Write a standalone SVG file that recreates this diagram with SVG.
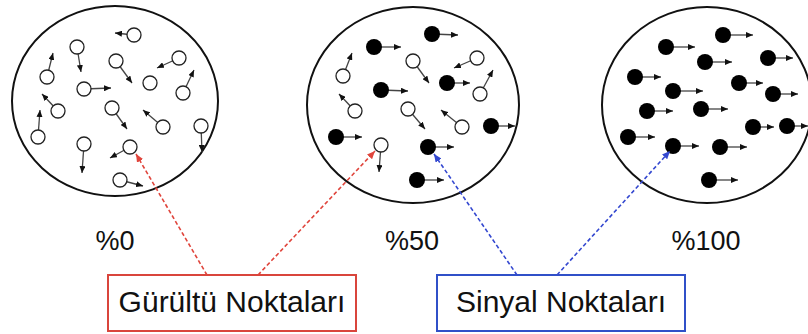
<svg xmlns="http://www.w3.org/2000/svg" width="808" height="334" viewBox="0 0 808 334">
  <style>
    .ring { fill: none; stroke: #111; stroke-width: 2; }
    .mv { stroke: #444; stroke-width: 1.3; marker-end: url(#tip); }
    .hollow { fill: #fff; stroke: #222; stroke-width: 1.3; }
    .solid { fill: #000; }
    .pct { font-family: "Liberation Sans", Arial, sans-serif; font-size: 27px; fill: #111; text-anchor: middle; }
    .lbl { font-family: "Liberation Sans", Arial, sans-serif; font-size: 30px; fill: #111; text-anchor: middle; }
    .noise { stroke: #e0453c; stroke-width: 1.6; stroke-dasharray: 4 2.5; fill: none; marker-end: url(#redTip); }
    .signal { stroke: #3448d0; stroke-width: 1.6; stroke-dasharray: 4 2.5; fill: none; marker-end: url(#blueTip); }
  </style>
  <defs>
    <marker id="tip" markerUnits="userSpaceOnUse" markerWidth="7" markerHeight="6" refX="7" refY="3" orient="auto">
      <path d="M0,0 L7,3 L0,6 z" fill="#111"/>
    </marker>
    <marker id="redTip" markerUnits="userSpaceOnUse" markerWidth="8" markerHeight="7" refX="8" refY="3.5" orient="auto">
      <path d="M0,0 L8,3.5 L0,7 z" fill="#e0453c"/>
    </marker>
    <marker id="blueTip" markerUnits="userSpaceOnUse" markerWidth="8" markerHeight="7" refX="8" refY="3.5" orient="auto">
      <path d="M0,0 L8,3.5 L0,7 z" fill="#3448d0"/>
    </marker>
  </defs>
  <rect width="808" height="334" fill="#fff"/>

  <!-- 0% signal: every dot moves randomly -->
  <g id="field-0">
    <ellipse class="ring" cx="115" cy="101" rx="103" ry="95"/>
    <line class="mv" x1="134" y1="35" x2="115" y2="33"/>
    <line class="mv" x1="77" y1="47" x2="81" y2="72"/>
    <line class="mv" x1="47" y1="77" x2="53" y2="53"/>
    <line class="mv" x1="116" y1="61" x2="132" y2="83"/>
    <line class="mv" x1="179" y1="58" x2="157" y2="68"/>
    <line class="mv" x1="183" y1="93" x2="194" y2="70"/>
    <line class="mv" x1="84" y1="89" x2="111" y2="88"/>
    <line class="mv" x1="58" y1="111" x2="42" y2="94"/>
    <line class="mv" x1="112" y1="108" x2="127" y2="129"/>
    <line class="mv" x1="163" y1="127" x2="143" y2="110"/>
    <line class="mv" x1="38" y1="137" x2="40" y2="110"/>
    <line class="mv" x1="201" y1="126" x2="202" y2="152"/>
    <line class="mv" x1="84" y1="144" x2="82" y2="173"/>
    <line class="mv" x1="130" y1="147" x2="110" y2="158"/>
    <line class="mv" x1="120" y1="180" x2="143" y2="186"/>
    <circle class="hollow" cx="134" cy="35" r="7"/>
    <circle class="hollow" cx="77" cy="47" r="7"/>
    <circle class="hollow" cx="47" cy="77" r="7"/>
    <circle class="hollow" cx="116" cy="61" r="7"/>
    <circle class="hollow" cx="179" cy="58" r="7"/>
    <circle class="hollow" cx="150" cy="83" r="7"/>
    <circle class="hollow" cx="183" cy="93" r="7"/>
    <circle class="hollow" cx="84" cy="89" r="7"/>
    <circle class="hollow" cx="58" cy="111" r="7"/>
    <circle class="hollow" cx="112" cy="108" r="7"/>
    <circle class="hollow" cx="163" cy="127" r="7"/>
    <circle class="hollow" cx="38" cy="137" r="7"/>
    <circle class="hollow" cx="201" cy="126" r="7"/>
    <circle class="hollow" cx="84" cy="144" r="7"/>
    <circle class="hollow" cx="130" cy="147" r="7"/>
    <circle class="hollow" cx="120" cy="180" r="7"/>
    <text class="pct" x="115" y="250">%0</text>
  </g>

  <!-- 50% signal -->
  <g id="field-50">
    <ellipse class="ring" cx="413" cy="105" rx="106" ry="98"/>
    <line class="mv" x1="432" y1="34" x2="458" y2="35"/>
    <line class="mv" x1="374" y1="47" x2="401" y2="47"/>
    <line class="mv" x1="447" y1="83" x2="470" y2="83"/>
    <line class="mv" x1="381" y1="90" x2="408" y2="91"/>
    <line class="mv" x1="491" y1="126" x2="515" y2="126"/>
    <line class="mv" x1="336" y1="137" x2="362" y2="137"/>
    <line class="mv" x1="428" y1="147" x2="454" y2="147"/>
    <line class="mv" x1="417" y1="180" x2="444" y2="180"/>
    <line class="mv" x1="413" y1="61" x2="429" y2="83"/>
    <line class="mv" x1="477" y1="58" x2="454" y2="68"/>
    <line class="mv" x1="343" y1="76" x2="352" y2="53"/>
    <line class="mv" x1="480" y1="94" x2="493" y2="70"/>
    <line class="mv" x1="355" y1="111" x2="339" y2="94"/>
    <line class="mv" x1="408" y1="109" x2="425" y2="129"/>
    <line class="mv" x1="462" y1="127" x2="441" y2="110"/>
    <line class="mv" x1="381" y1="145" x2="379" y2="172"/>
    <circle class="solid" cx="432" cy="34" r="8"/>
    <circle class="solid" cx="374" cy="47" r="8"/>
    <circle class="solid" cx="447" cy="83" r="8"/>
    <circle class="solid" cx="381" cy="90" r="8"/>
    <circle class="solid" cx="491" cy="126" r="8"/>
    <circle class="solid" cx="336" cy="137" r="8"/>
    <circle class="solid" cx="428" cy="147" r="8"/>
    <circle class="solid" cx="417" cy="180" r="8"/>
    <circle class="hollow" cx="413" cy="61" r="7"/>
    <circle class="hollow" cx="477" cy="58" r="7"/>
    <circle class="hollow" cx="343" cy="76" r="7"/>
    <circle class="hollow" cx="480" cy="94" r="7"/>
    <circle class="hollow" cx="355" cy="111" r="7"/>
    <circle class="hollow" cx="408" cy="109" r="7"/>
    <circle class="hollow" cx="462" cy="127" r="7"/>
    <circle class="hollow" cx="381" cy="145" r="7"/>
    <text class="pct" x="412" y="250">%50</text>
  </g>

  <!-- 100% signal: every dot moves right -->
  <g id="field-100">
    <ellipse class="ring" cx="707" cy="105" rx="105" ry="98"/>
    <line class="mv" x1="723" y1="35" x2="753" y2="35"/>
    <line class="mv" x1="666" y1="47" x2="695" y2="47"/>
    <line class="mv" x1="705" y1="62" x2="732" y2="62"/>
    <line class="mv" x1="768" y1="58" x2="793" y2="58"/>
    <line class="mv" x1="635" y1="77" x2="661" y2="77"/>
    <line class="mv" x1="739" y1="83" x2="763" y2="83"/>
    <line class="mv" x1="673" y1="91" x2="703" y2="91"/>
    <line class="mv" x1="773" y1="94" x2="798" y2="94"/>
    <line class="mv" x1="647" y1="111" x2="673" y2="111"/>
    <line class="mv" x1="701" y1="109" x2="728" y2="109"/>
    <line class="mv" x1="753" y1="127" x2="774" y2="127"/>
    <line class="mv" x1="787" y1="126" x2="808" y2="126"/>
    <line class="mv" x1="628" y1="137" x2="655" y2="137"/>
    <line class="mv" x1="673" y1="146" x2="699" y2="146"/>
    <line class="mv" x1="720" y1="147" x2="747" y2="147"/>
    <line class="mv" x1="709" y1="180" x2="738" y2="180"/>
    <circle class="solid" cx="723" cy="35" r="8"/>
    <circle class="solid" cx="666" cy="47" r="8"/>
    <circle class="solid" cx="705" cy="62" r="8"/>
    <circle class="solid" cx="768" cy="58" r="8"/>
    <circle class="solid" cx="635" cy="77" r="8"/>
    <circle class="solid" cx="739" cy="83" r="8"/>
    <circle class="solid" cx="673" cy="91" r="8"/>
    <circle class="solid" cx="773" cy="94" r="8"/>
    <circle class="solid" cx="647" cy="111" r="8"/>
    <circle class="solid" cx="701" cy="109" r="8"/>
    <circle class="solid" cx="753" cy="127" r="8"/>
    <circle class="solid" cx="787" cy="126" r="8"/>
    <circle class="solid" cx="628" cy="137" r="8"/>
    <circle class="solid" cx="673" cy="146" r="8"/>
    <circle class="solid" cx="720" cy="147" r="8"/>
    <circle class="solid" cx="709" cy="180" r="8"/>
    <text class="pct" x="706" y="250">%100</text>
  </g>

  <g id="noise-label">
    <rect x="108" y="275" width="248" height="56" fill="#fff" stroke="#d9453c" stroke-width="2"/>
    <text class="lbl" x="232" y="312">Gürültü Noktaları</text>
  </g>

  <g id="signal-label">
    <rect x="437" y="275" width="248" height="56" fill="#fff" stroke="#3050c8" stroke-width="2"/>
    <text class="lbl" x="561" y="312">Sinyal Noktaları</text>
  </g>

  <g id="connectors">
    <line class="noise" x1="207" y1="275" x2="136" y2="154"/>
    <line class="noise" x1="258" y1="275" x2="375" y2="151"/>
    <line class="signal" x1="517" y1="275" x2="434" y2="154"/>
    <line class="signal" x1="557" y1="275" x2="670" y2="151"/>
  </g>
</svg>
